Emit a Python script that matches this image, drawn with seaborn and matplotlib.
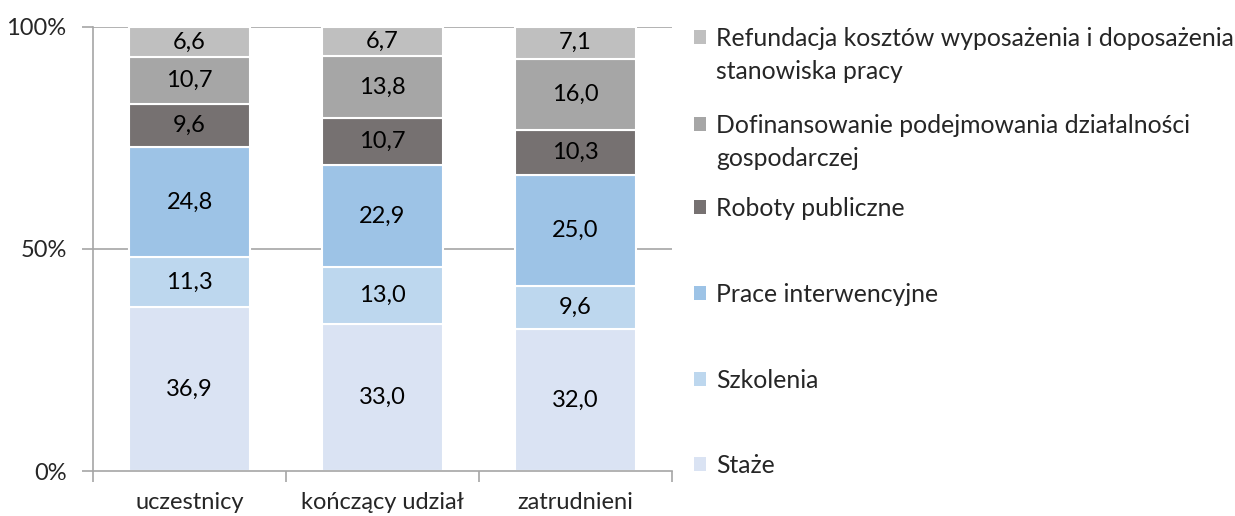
import numpy as np
import pandas as pd
import matplotlib
matplotlib.use("Agg")
import matplotlib.pyplot as plt
from matplotlib.patches import Patch
import seaborn as sns

categories = ["uczestnicy", "kończący udział", "zatrudnieni"]
series_names = [
    "Staże",
    "Szkolenia",
    "Prace interwencyjne",
    "Roboty publiczne",
    "Dofinansowanie podejmowania działalności\ngospodarczej",
    "Refundacja kosztów wyposażenia i doposażenia\nstanowiska pracy",
]
staze = [36.9, 33.0, 32.0]
szkolenia = [11.3, 13.0, 9.6]
prace = [24.8, 22.9, 25.0]
roboty = [9.6, 10.7, 10.3]
dofinansowanie = [10.7, 13.8, 16.0]
refundacja = [6.6, 6.7, 7.1]
series_values = [staze, szkolenia, prace, roboty, dofinansowanie, refundacja]
colors = ["#DAE3F3", "#BDD7EE", "#9DC3E6", "#767171", "#A6A6A6", "#BFBFBF"]
y_ticks = [0, 50, 100]
y_tick_labels = ["0%", "50%", "100%"]

sns.set_theme(style="white")
plt.rcParams["font.family"] = ["Lato", "DejaVu Sans"]
FS = 17
LFS = 17.8

W, H = 1235, 516
fig = plt.figure(figsize=(W / 100, H / 100), dpi=100)
ax = fig.add_axes([93 / W, 1 - 471 / H, (672 - 93) / W, (471 - 27) / H])

# gridlines behind bars
for yv in [50, 100]:
    ax.axhline(yv, color="#A6A6A6", lw=1.2, zorder=0)

bottom = np.zeros(len(categories))
for name, vals, col in zip(series_names, series_values, colors):
    df = pd.DataFrame({"cat": categories, "val": vals})
    sns.barplot(data=df, x="cat", y="val", color=col, width=0.63, bottom=bottom,
                edgecolor="white", linewidth=1.5, ax=ax, zorder=2, saturation=1)
    cont = ax.containers[-1]
    labels = [f"{v:.1f}".replace(".", ",") for v in vals]
    ax.bar_label(cont, labels=labels, label_type="center", fontsize=FS, color="black")
    bottom = bottom + np.array(vals)

ax.set_xlim(-0.5, 2.5)
ax.set_ylim(0, 100)
ax.set_yticks(y_ticks)
ax.set_yticklabels(y_tick_labels, fontsize=FS)
ax.tick_params(axis="y", direction="out", length=8, width=1.2, color="#A6A6A6", pad=11, left=True)
ax.set_xticks([-0.5, 0.5, 1.5, 2.5])
ax.set_xticklabels([])
ax.set_xticks([0, 1, 2], minor=True)
ax.set_xticklabels(categories, minor=True, fontsize=FS)
ax.tick_params(axis="x", which="major", direction="out", length=8, width=1.2, color="#A6A6A6", bottom=True)
ax.tick_params(axis="x", which="minor", length=0, pad=15)
ax.set_xlabel("")
ax.set_ylabel("")
for s in ["top", "right"]:
    ax.spines[s].set_visible(False)
for s in ["left", "bottom"]:
    ax.spines[s].set_color("#A6A6A6")
    ax.spines[s].set_linewidth(1.2)
    ax.spines[s].set_zorder(3)

# legend: one block per entry, first-line centres as in the reference
first_line_y = [465, 380, 294, 208, 125, 38]  # pixel rows, same order as series
for name, col, yc in zip(series_names, colors, first_line_y):
    lines = name.split("\n")
    hs = [Patch(facecolor=col, edgecolor="none")]
    for _ in lines[1:]:
        hs.append(Patch(facecolor="none", edgecolor="none"))
    fig.legend(hs, lines, loc="upper left",
               bbox_to_anchor=(694 / W, 1 - (yc - 11) / H), frameon=False,
               fontsize=LFS, handlelength=0.5, handleheight=0.5, handletextpad=0.4,
               labelspacing=0.42, borderpad=0, borderaxespad=0)

fig.savefig("out.png", dpi=100)
